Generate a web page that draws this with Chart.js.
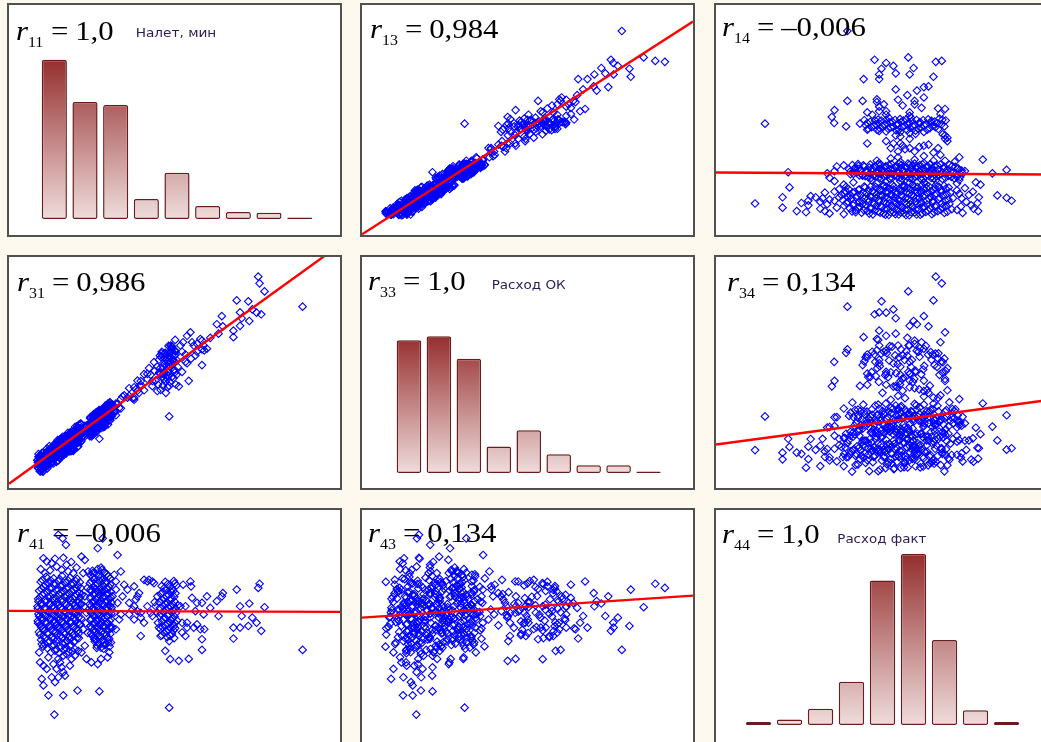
<!DOCTYPE html>
<html lang="ru">
<head>
<meta charset="utf-8">
<title>Корреляционная матрица: налет и расход</title>
<script src="https://cdn.jsdelivr.net/npm/chart.js@4.4.1/dist/chart.umd.min.js"></script>
<style>
  html, body { margin: 0; padding: 0; background: #fef9ee; }
  #page { position: relative; width: 1041px; height: 742px; overflow: hidden; background: #fef9ee; }
  .panel { position: absolute; box-sizing: border-box; border: 2px solid #505050; background: #ffffff; overflow: hidden; }
  .panel canvas { position: absolute; left: 0; top: 0; }
  #labels { position: absolute; left: 0; top: 0; z-index: 5; pointer-events: none; }
</style>
</head>
<body>
<div id="page">
  <svg id="labels" width="1041" height="742" xmlns="http://www.w3.org/2000/svg"></svg>
</div>
<script>
// ---- Записи полетов: налет (мин), расход ОК, расход факт ----
const naletMin = [
  // плотное ядро, малый налет
  11.2,13.5,16.0,18.4,20.6, 9.6,12.1,14.8,17.2,19.5,21.4,
  10.4,13.0,15.5,18.0,20.3, 9.1,11.6,14.2,16.6,19.0,21.2,
  10.0,12.5,15.0,17.5,20.0,22.0, 8.8,11.0,13.4,15.9,18.3,20.8,
  9.8,12.2,14.6,17.0,19.4,21.6, 8.6,10.9,13.3,15.7,18.1,20.5,
  9.5,11.9,14.3,16.8,19.2,21.5, 8.9,10.6,13.0,15.4,17.8,20.1,
  9.9,12.4,14.9,17.3,19.7,21.8, 8.7,11.3,13.7,16.2,18.6,20.9,
  9.4,12.0,14.5,17.0,19.3,21.3, 10.2,12.8,15.3,17.7,20.2,
  9.0,11.5,14.0,16.5,18.9,21.0, 10.5,13.1,15.6,18.2,20.6,
  9.7,12.3,14.7,17.4,19.8, 10.8,13.6,16.3,18.8,
  11.6,14.4,17.1,19.9, 12.7,15.2,18.0,
  // верх ядра
  10.4,11.4,13.9,16.4,17.4,12.9,14.4,15.9,17.9,19.4,
  10.9,12.4,14.9,16.2,17.2,21.9,22.9,20.4,9.6,18.8,
  // низ ядра
  10.4,9.9,10.4,11.9,13.7,16.4,20.7,12.9,14.4,15.4,
  14.9,16.4,17.4,18.9,19.9,20.9,21.9,16.9,16.4,15.9,
  13.9,14.9,11.4,9.4,9.1,9.9,11.9,13.4,18.4,
  // второе скопление
  25.2,28.0,24.6,26.9,29.6,25.8,28.3,30.5,24.4,26.6,
  29.0,25.5,27.8,30.2,24.8,26.9,28.9,30.8,25.6,27.5,
  29.6,24.5,26.4,28.4,30.4,25.3,27.3,29.2,31.0,24.7,
  26.6,28.6,30.5,25.7,27.8,29.8,24.9,26.9,28.9,30.9,
  25.9,27.9,29.9,24.6,26.5,28.5,30.4,25.5,27.5,29.5,
  24.9,26.8,28.8,30.7,25.9,27.9,29.9,25.1,27.2,29.3,
  26.2,28.4,30.3,27.1,29.2,26.5,28.6,
  // края второго скопления
  23.9,25.3,26.8,27.8,28.8,26.8,32.8,31.8,33.8,32.3,
  28.3,26.8,27.8,29.8,30.3,24.9,23.4,25.8,27.8,28.8,
  30.8,22.4,22.9,23.4,22.4,22.9,23.7,22.7,31.3,31.8,
  31.3,32.3,32.8,33.3,32.3,33.8,34.3,27.3,23.2,23.8,
  // 35–44 мин
  34.8,35.8,36.3,37.8,38.3,38.8,39.3,37.8,38.8,39.8,
  37.8,39.8,40.8,40.8,41.8,42.3,43.3,43.8,42.8,43.3,
  39.8,41.8,36.3,37.3,
  // третье скопление
  47.2,49.8,46.1,48.6,50.6,47.5,49.6,45.8,48.2,50.3,
  46.9,49.1,45.4,47.9,50.0,46.6,48.8,51.0,47.6,49.7,
  45.9,48.3,50.4,47.1,49.3,46.2,48.6,50.8,47.4,49.8,
  45.7,48.1,50.2,46.9,49.2,47.8,49.9,48.4,47.2,48.7,
  44.3,44.8,45.0,45.3,45.8,44.8,44.0,
  // 51–61 мин
  52.6,54.8,55.0,51.8,53.3,52.3,53.8,55.3,56.8,56.3,
  58.3,58.8,57.8,59.0,58.3,58.3,54.3,51.3,52.3,53.3,
  53.8,55.8,56.8,59.8,60.8,
  // длинные полеты
  62.8,63.3,64.3,64.6,67.8,67.8,68.8,69.8,69.8,70.3,
  72.3,72.6,73.5,74.8,75.3,75.7,76.2,77.2,
  // выбросы
  88.7,48.4,
  // ядро, промежуточные полеты
  10.1,12.7,15.3,17.8,20.1, 11.0,13.6,16.2,18.7,20.9,
  9.8,12.3,14.9,17.3,19.6,21.7, 10.6,13.1,15.6,18.1,20.4,
  9.4,11.8,14.2,16.8,19.3,21.5, 8.9,11.1,13.6,16.1,18.6,20.9,
  9.9,12.4,14.8,17.3,19.8,21.9, 8.7,11.0,13.5,16.0,18.5,20.9,
  9.8,12.2,14.7,17.1,19.5,21.2, 9.1,11.6,13.9,16.5,18.9,21.0,
  10.0,12.6,15.1,17.6,20.0, 8.8,11.3,13.8,16.4,18.8,21.6,
  9.7,12.3,14.8,17.2,19.6, 10.6,13.3,15.9,18.4,20.9,
  9.3,11.8,14.4,16.9,19.4, 10.9,13.5,16.0,18.6,21.1,
  11.8,14.2,17.0,19.6, 10.3,12.9,15.7,18.4, 13.9,16.6,19.2,
  // второе скопление, промежуточные полеты
  26.0,28.9, 25.3,27.6,30.0, 24.9,27.2,29.6, 26.1,28.5,30.6,
  24.6,26.2,28.0,29.9, 25.8,28.0,30.0, 24.6,26.6,28.6,30.7,
  25.7,27.8,29.8, 24.4,26.4,28.2,30.2, 25.3,27.2,29.3,31.0,
  24.5,26.4,28.4,30.4, 25.4,27.5,29.5, 24.8,26.8,28.9,30.8,
  25.8,27.9,29.9, 24.6,26.6,28.6,30.5, 25.6,27.6,29.7,
  24.8,26.8,28.9,30.6, 25.6,27.7,29.7, 25.9,28.0,30.0, 26.6,28.8,30.4,
  // третье скопление, промежуточные полеты
  48.0,50.1, 46.9,49.3, 46.5,48.9, 47.6,49.9, 46.2,48.5, 47.2,49.5,
  45.6,48.0,50.3, 46.9,49.1, 45.5,47.9,50.0, 46.8,49.0, 48.0,50.1,
  46.4,48.6, 47.6,49.7, 46.2,48.7
];

const raskhodOK = [
  143,122,212,192,268, 72,147,145,218,167,238,
  139,114,212,184,247, 111,109,190,143,222,206,
  152,130,186,158,265,223, 89,150,106,183,235,195,
  126,181,138,204,160,258, 119,89,153,211,182,234,
  90,163,113,197,242,197, 135,113,162,142,239,206,
  82,147,191,150,232,278, 111,102,190,171,169,247,
  134,119,166,222,189,240, 73,166,159,223,192,
  112,171,137,196,161,257, 121,109,195,204,205,
  140,125,198,163,227, 100,168,148,232,
  145,135,226,207, 147,134,217,

  127,114,174,172,206,123,165,150,207,201,
  144,132,172,166,206,233,261,205,115,215,

  135,88,153,124,164,153,178,125,183,133,
  170,213,178,227,186,235,216,212,165,213,
  148,179,95,119,95,139,115,169,158,

  286,270,302,280,341,235,309,371,242,298,
  275,301,295,356,243,307,265,338,314,280,
  332,234,321,295,349,230,299,358,310,278,
  250,333,323,309,274,337,223,298,349,315,
  293,269,357,256,309,263,331,319,274,328,
  232,315,306,361,254,317,275,279,331,299,
  297,274,361,282,337,243,312,

  272,262,308,280,315,266,366,332,385,331,
  315,262,306,307,344,264,268,257,326,303,
  339,226,269,242,248,223,273,243,361,328,
  343,315,364,347,365,345,396,213,260,243,

  401,391,432,390,427,465,412,436,421,463,
  382,439,493,423,472,519,463,545,490,441,
  447,494,399,389,

  560,507,583,524,490,578,555,425,615,577,
  492,605,501,472,594,494,617,524,554,476,
  566,536,448,539,612,480,584,552,412,582,
  519,484,641,502,481,566,548,442,585,546,
  465,525,447,555,495,420,507,

  631,674,560,617,546,503,659,631,624,574,
  638,617,645,596,532,600,464,440,590,578,
  540,617,590,603,650,

  709,668,744,700,681,653,812,702,760,735,
  808,723,773,759,915,886,752,851,

  785,310,

  99,168,129,203,254, 99,153,222,173,244,
  105,170,119,210,201,274, 98,157,138,221,206,
  134,93,166,220,186,236, 147,94,168,170,235,181,
  133,126,202,168,227,204, 123,108,176,136,210,262,
  87,139,207,157,230,224, 137,85,175,169,245,206,
  125,107,190,177,244, 86,136,189,156,208,279,
  80,155,157,221,168, 140,135,213,179,238,
  73,156,144,212,172, 131,185,151,205,273,
  102,175,180,246, 71,164,160,239, 133,194,176,

  291,286, 305,290,342, 229,337,302, 286,332,294,
  280,272,339,293, 280,330,303, 307,283,318,304,
  309,292,340, 224,329,287,329, 299,259,329,322,
  303,257,307,355, 255,337,313, 279,264,343,323,
  298,260,365, 250,292,333,293, 290,287,357,
  240,291,340,309, 317,294,330, 254,333,315, 307,270,370,

  548,500, 582,532, 443,588, 529,513, 590,568, 460,554,
  573,503,592, 472,600, 497,437,574, 501,614, 488,595,
  527,459, 579,546, 480,566
];

const raskhodFakt = [
  712,705,716,708,703, 690,684,693,686,681,689,
  670,664,672,666,661, 652,646,655,648,651,643,
  634,628,637,630,626,635, 617,611,619,613,620,609,
  600,595,603,597,601,594, 584,579,587,580,585,577,
  568,563,570,565,561,569, 552,547,555,549,544,553,
  537,532,539,530,536,533, 522,517,524,518,521,515,
  506,501,508,503,499,507, 490,485,492,484,489,
  474,469,476,470,473,467, 457,452,459,454,450,
  440,435,442,437,433, 422,417,424,419,
  404,399,406,401, 387,383,389,

  792,778,790,794,764,771,756,742,735,728,
  728,740,893,878,850,799,785,752,745,776,

  329,272,244,201,118,201,222,279,315,343,
  358,372,379,358,372,393,386,286,301,322,
  258,279,315,343,386,422,365,336,329,

  738,742,720,716,723,702,698,705,684,680,
  687,666,662,669,650,646,653,648,634,630,
  637,618,614,621,616,602,598,605,600,586,
  582,589,584,570,566,573,555,551,558,553,
  540,536,543,524,520,527,522,508,504,511,
  492,488,495,490,476,472,479,460,456,463,
  442,438,445,424,420,406,402,

  735,728,745,752,730,835,806,721,735,692,
  878,336,358,365,386,343,358,443,407,429,
  429,728,628,557,486,415,664,585,628,557,
  493,486,600,528,657,550,628,218,512,470,

  678,657,600,671,614,628,642,585,564,557,
  528,536,514,699,692,699,692,685,557,543,
  457,585,550,571,

  690,694,672,668,675,655,651,638,634,641,
  620,616,603,599,606,586,582,589,570,566,
  553,549,556,536,532,520,516,523,503,499,
  487,483,490,470,466,452,448,435,393,357,
  585,557,514,493,457,628,603,

  678,692,671,585,585,514,514,621,600,564,
  600,550,486,486,443,397,358,350,472,457,
  493,493,507,628,578,

  607,543,628,642,493,446,657,585,493,543,
  500,597,536,514,664,682,479,581,

  397,148,

  699,695,702,697,694, 679,683,676,681,674,
  659,662,656,661,657,664, 641,638,644,640,636,
  623,626,620,625,618,622, 606,603,609,604,608,601,
  590,593,587,591,588,595, 574,571,577,572,576,569,
  558,561,555,560,556,563, 542,539,545,540,544,537,
  527,530,524,529,525, 512,509,515,510,514,507,
  496,499,493,498,494, 480,477,483,478,482,
  463,466,460,465,461, 446,443,449,444,448,
  429,432,426,431, 411,414,408,413, 394,397,391,

  729,732, 711,708,714, 693,696,690, 675,672,678,
  658,661,655,660, 642,645,639, 626,623,629,624,
  610,613,607, 594,591,597,592, 578,581,575,580,
  562,559,565,560, 547,550,544, 532,529,535,530,
  516,519,513, 500,497,503,498, 484,487,481,
  468,465,471,466, 451,454,448, 433,436,430, 415,418,412,

  681,684, 663,660, 646,649, 629,626, 612,615, 595,592,
  578,581,575, 562,559, 544,547,541, 528,525, 511,514,
  495,492, 478,481, 460,457
];

// ---- Гистограммы (число полетов в интервале) ----
const naletBins = ['8–17','17–26','26–35','35–44','44–53','53–62','62–71','71–80','80–89'];
const naletCounts = [207,152,148,26,60,17,9,8,2];
const raskhodOKBins = ['84–176','176–269','269–361','361–453','453–546','546–638','638–730','730–823','823–915'];
const raskhodOKCounts = [171,176,147,34,55,24,10,10,2];
const raskhodFaktBins = ['110–197','197–283','283–370','370–457','457–543','543–630','630–717','717–803','803–890'];
const raskhodFaktCounts = [4,7,21,56,187,221,110,19,4];

// ---- Линии регрессии: [свободный член, наклон] ----
const fitR13 = [0.3, 0.0925];    // налет по расходу ОК
const fitR14 = [27.2, -0.0009];  // налет по расходу факт
const fitR31 = [18, 10.35];      // расход ОК по налету
const fitR34 = [188, 0.192];     // расход ОК по расходу факт
const fitR41 = [565, -0.04];     // расход факт по налету
const fitR43 = [536, 0.095];     // расход факт по расходу ОК

// ---- Коэффициенты корреляции ----
const corrLabels = [
  ['1,0',    '0,984', '–0,006'],
  ['0,986',  '1,0',   '0,134'],
  ['–0,006', '0,134', '1,0']
];
const varNames = ['Налет, мин', 'Расход ОК', 'Расход факт'];
const varIndex = ['1', '3', '4'];

if (naletMin.length !== raskhodOK.length || naletMin.length !== raskhodFakt.length) {
  throw new Error('series length mismatch: ' + naletMin.length + ' / ' + raskhodOK.length + ' / ' + raskhodFakt.length);
}

const series = [naletMin, raskhodOK, raskhodFakt];
const axisRange = [[0, 100], [0, 1000], [0, 1000]];
const histCounts = [naletCounts, raskhodOKCounts, raskhodFaktCounts];
const histBins = [naletBins, raskhodOKBins, raskhodFaktBins];
const fits = { '0-1': fitR13, '0-2': fitR14, '1-0': fitR31, '1-2': fitR34, '2-0': fitR41, '2-1': fitR43 };
const histMax = 278;

// ---- Разметка панелей ----
const colLeft = [7, 360, 714];
const rowTop = [3, 255, 508];
const rowH = [234, 235, 236];
const panelW = 335;
const histPad = [
  { left: 30, right: 25, bottom: 16 },
  { left: 32, right: 29.5, bottom: 15 },
  { left: 27, right: 25, bottom: 17 }
];
const labelPos = [
  [[9, 37], [10, 35], [8, 33]],
  [[10, 36], [8, 35], [13, 36]],
  [[10, 34], [8, 34], [8, 35]]
];
const captionPos = [[135.7, 37.3, 80.6], [491.7, 288.7, 74], [837.3, 543, 89]];

const page = document.getElementById('page');
const svg = document.getElementById('labels');
const svgNS = 'http://www.w3.org/2000/svg';

function barFill(ctx) {
  const chart = ctx.chart;
  const area = chart.chartArea;
  if (!area || !chart.scales.y) return '#c98a8a';
  const top = chart.scales.y.getPixelForValue(Math.max(...ctx.dataset.data));
  const g = chart.ctx.createLinearGradient(0, top, 0, area.bottom);
  g.addColorStop(0, '#952e2e');
  g.addColorStop(1, '#efdcdc');
  return g;
}

const baseOptions = () => ({
  responsive: false,
  animation: false,
  devicePixelRatio: 1,
  events: [],
  plugins: { legend: { display: false }, tooltip: { enabled: false } }
});

function makeHistogram(canvas, i) {
  const opts = baseOptions();
  opts.layout = { autoPadding: false, padding: { left: histPad[i].left, right: histPad[i].right, top: 0, bottom: histPad[i].bottom } };
  opts.scales = {
    x: { display: false },
    y: { display: false, min: 0, max: histMax }
  };
  new Chart(canvas, {
    type: 'bar',
    data: {
      labels: histBins[i],
      datasets: [{
        data: histCounts[i],
        backgroundColor: barFill,
        borderColor: '#6a1b1b',
        borderWidth: 1.5,
        borderRadius: 2,
        borderSkipped: false,
        barPercentage: 0.82,
        categoryPercentage: 1
      }]
    },
    options: opts
  });
}

function makeScatter(canvas, i, j) {
  const xs = series[j], ys = series[i];
  const xr = axisRange[j], yr = axisRange[i];
  const fit = fits[i + '-' + j];
  const pts = xs.map((x, k) => ({ x: x, y: ys[k] }));
  const line = [
    { x: xr[0], y: fit[0] + fit[1] * xr[0] },
    { x: xr[1], y: fit[0] + fit[1] * xr[1] }
  ];
  const opts = baseOptions();
  opts.layout = { autoPadding: false, padding: 0 };
  opts.scales = {
    x: { type: 'linear', display: false, min: xr[0], max: xr[1] },
    y: { type: 'linear', display: false, min: yr[0], max: yr[1] }
  };
  new Chart(canvas, {
    type: 'scatter',
    data: {
      datasets: [
        {
          type: 'line', data: line, order: 1,
          borderColor: '#ff0000', borderWidth: 2.4, pointRadius: 0, fill: false, tension: 0
        },
        {
          type: 'scatter', data: pts, order: 2, showLine: false,
          pointStyle: 'rectRot', pointRadius: 3.8, pointHoverRadius: 3.8,
          pointBorderColor: '#0000ff', pointBackgroundColor: 'rgba(255,255,255,0)', pointBorderWidth: 1.1
        }
      ]
    },
    options: opts
  });
}

function svgEl(tag, attrs, text) {
  const el = document.createElementNS(svgNS, tag);
  for (const k in attrs) el.setAttribute(k, attrs[k]);
  if (text !== undefined) el.textContent = text;
  return el;
}

for (let i = 0; i < 3; i++) {
  for (let j = 0; j < 3; j++) {
    const panel = document.createElement('div');
    panel.className = 'panel';
    panel.style.left = colLeft[j] + 'px';
    panel.style.top = rowTop[i] + 'px';
    panel.style.width = panelW + 'px';
    panel.style.height = rowH[i] + 'px';
    const canvas = document.createElement('canvas');
    canvas.width = panelW - 4;
    canvas.height = rowH[i] - 4;
    canvas.style.width = (panelW - 4) + 'px';
    canvas.style.height = (rowH[i] - 4) + 'px';
    panel.appendChild(canvas);
    page.insertBefore(panel, svg);

    if (i === j) makeHistogram(canvas, i);
    else makeScatter(canvas, i, j);

    // подпись коэффициента корреляции
    const x0 = colLeft[j] + labelPos[i][j][0];
    const y0 = rowTop[i] + labelPos[i][j][1];
    const t = svgEl('text', {
      transform: 'translate(' + x0 + ',' + y0 + ') scale(1.1,1)',
      'font-family': "'Liberation Serif','Times New Roman',serif",
      'font-size': '28', fill: '#000000'
    });
    t.appendChild(svgEl('tspan', { x: '0', 'font-style': 'italic' }, 'r'));
    t.appendChild(svgEl('tspan', { x: '10.9', dy: '6.5', 'font-size': '14.5' }, varIndex[i] + varIndex[j]));
    t.appendChild(svgEl('tspan', { x: '31.8', dy: '-6.5' }, '='));
    t.appendChild(svgEl('tspan', { x: '53.8' }, corrLabels[i][j]));
    svg.appendChild(t);

    if (i === j) {
      const c = captionPos[i];
      svg.appendChild(svgEl('text', {
        x: c[0], y: c[1], 'font-family': "'DejaVu Sans',sans-serif", 'font-size': '12',
        fill: '#2e1a55', textLength: c[2], lengthAdjust: 'spacingAndGlyphs'
      }, varNames[i]));
    }
  }
}
</script>
</body>
</html>
